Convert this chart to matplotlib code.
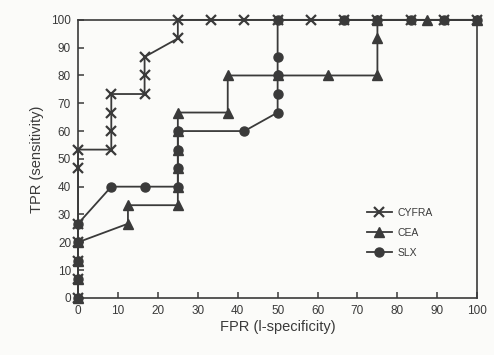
import matplotlib
matplotlib.use("Agg")
import matplotlib.pyplot as plt

plt.rcParams['font.family'] = ['Liberation Sans', 'DejaVu Sans']

cyfra_x = [0, 0, 0, 0, 0, 0, 0, 8.33, 8.33, 8.33, 8.33, 16.67, 16.67, 16.67, 25, 25, 33.33, 41.67, 50, 58.33, 66.67, 75, 83.33, 91.67, 100]
cyfra_y = [0, 6.67, 13.33, 20, 26.67, 46.67, 53.33, 53.33, 60, 66.67, 73.33, 73.33, 80, 86.67, 93.33, 100, 100, 100, 100, 100, 100, 100, 100, 100, 100]

cea_x = [0, 0, 0, 0, 12.5, 12.5, 25, 25, 25, 25, 25, 25, 37.5, 37.5, 50, 62.5, 75, 75, 75, 87.5, 100]
cea_y = [0, 6.67, 13.33, 20, 26.67, 33.33, 33.33, 40, 46.67, 53.33, 60, 66.67, 66.67, 80, 80, 80, 80, 93.33, 100, 100, 100]

slx_x = [0, 0, 0, 0, 0, 8.33, 16.67, 25, 25, 25, 25, 41.67, 50, 50, 50, 50, 50, 66.67, 75, 83.33, 91.67, 100]
slx_y = [0, 6.67, 13.33, 20, 26.67, 40, 40, 40, 46.67, 53.33, 60, 60, 66.67, 73.33, 80, 86.67, 100, 100, 100, 100, 100, 100]

ticks = [0, 10, 20, 30, 40, 50, 60, 70, 80, 90, 100]

col = '#3a3a3a'
fig = plt.figure(figsize=(4.94, 3.55), dpi=100)
fig.patch.set_facecolor('#fbfbf9')
ax = fig.add_axes([0.158, 0.161, 0.808, 0.783])
ax.set_facecolor('#fbfbf9')

ax.plot(cyfra_x, cyfra_y, color=col, lw=1.3, marker='x', ms=7, mew=1.6, label='CYFRA', clip_on=False, zorder=3)
ax.plot(cea_x, cea_y, color=col, lw=1.3, marker='^', ms=6.5, mfc=col, mec=col, label='CEA', clip_on=False, zorder=3)
ax.plot(slx_x, slx_y, color=col, lw=1.3, marker='o', ms=6.5, mfc=col, mec=col, label='SLX', clip_on=False, zorder=3)

ax.set_xlim(0, 100)
ax.set_ylim(0, 100)
ax.set_xticks(ticks)
ax.set_yticks(ticks)
ax.tick_params(direction='in', length=4, width=1.1, colors=col, labelsize=8.5, pad=5)
for s in ax.spines.values():
    s.set_color(col)
    s.set_linewidth(1.2)
ax.set_xlabel('FPR (l-specificity)', fontsize=10.5, color=col, labelpad=2)
ax.set_ylabel('TPR (sensitivity)', fontsize=10.5, color=col, labelpad=5)

leg = ax.legend(loc='upper left', bbox_to_anchor=(0.705, 0.35), frameon=False,
                fontsize=7.5, handlelength=2.4, labelspacing=0.95, handletextpad=0.6,
                borderpad=0.2)
for t in leg.get_texts():
    t.set_color(col)

fig.savefig('out.png', dpi=100, facecolor=fig.get_facecolor())
